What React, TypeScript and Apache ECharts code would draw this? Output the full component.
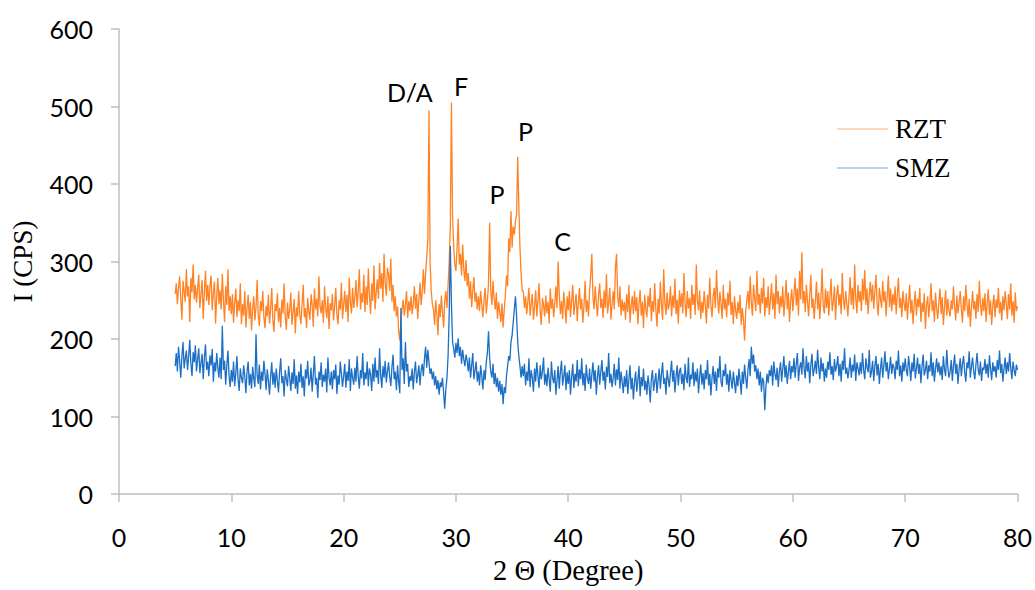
import React, { useEffect, useRef } from "react";
import * as echarts from "echarts";

const X_START = 5;
const X_STEP = 0.1;

const rztValues: number[] = [
  258, 272, 245, 266, 281, 252, 225, 275, 262, 248,
  290, 255, 268, 222, 279, 260, 296, 251, 270, 247,
  265, 283, 240, 258, 276, 226, 261, 288, 249, 270,
  244, 268, 282, 237, 259, 274, 220, 256, 279, 245,
  263, 238, 284, 250, 222, 268, 244, 290, 236, 255,
  232, 258, 221, 247, 265, 228, 250, 236, 272, 219,
  245, 230, 262, 215, 240, 257, 226, 248, 211, 239,
  255, 224, 241, 276, 230, 217, 249, 236, 262, 228,
  214, 243, 229, 257, 220, 238, 266, 225, 209, 245,
  236, 259, 222, 240, 215, 251, 233, 272, 228, 212,
  247, 226, 238, 260, 218, 235, 252, 207, 241, 229,
  262, 231, 219, 245, 270, 228, 240, 214, 253, 236,
  225, 258, 243, 216, 265, 238, 252, 229, 281, 242,
  233, 250, 221, 268, 240, 227, 255, 213, 246, 237,
  258, 224, 242, 266, 231, 219, 250, 238, 273, 226,
  244, 262, 235, 257, 222, 279, 248, 233, 266, 240,
  253, 276, 241, 262, 290, 238, 259, 247, 283, 235,
  268, 244, 291, 256, 232, 272, 249, 295, 238, 260,
  277, 252, 298, 265, 285, 248, 310, 271, 256, 292,
  283, 262, 304, 248, 270, 236, 255, 229, 242, 210,
  198, 222, 238, 251, 230, 244, 262, 227, 249, 236,
  255, 232, 246, 268, 239, 258, 226, 250, 273, 244,
  262, 290, 258, 285, 305, 330, 495, 300, 262, 245,
  238, 218, 250, 232, 205, 245, 228, 256, 235, 215,
  248, 262, 240, 270, 300, 345, 505, 360, 318, 296,
  288, 318, 355, 296, 310, 282, 322, 290, 275, 302,
  268, 285, 252, 274, 241, 263, 280, 248, 260, 238,
  255, 236, 262, 245, 228, 251, 266, 233, 249, 271,
  350, 262, 244, 275, 252, 238, 260, 226, 248, 235,
  222, 246, 215, 238, 255, 282, 268, 330, 312, 365,
  318, 345, 335, 352, 360, 435, 372, 318, 285, 262,
  262, 240, 255, 232, 248, 266, 230, 245, 258, 225,
  241, 263, 229, 250, 272, 236, 218, 253, 244, 229,
  256, 233, 248, 220, 265, 239, 252, 228, 246, 268,
  240, 300, 258, 232, 249, 226, 261, 243, 220, 255,
  237, 262, 228, 249, 270, 231, 245, 258, 223, 247,
  266, 238, 252, 221, 243, 275, 235, 250, 229, 262,
  283, 310, 255, 238, 268, 246, 229, 257, 272, 240,
  252, 227, 263, 240, 284, 233, 248, 266, 225, 245,
  262, 238, 292, 310, 255, 241, 268, 230, 251, 236,
  248, 225, 258, 235, 270, 221, 243, 255, 232, 262,
  236, 254, 219, 245, 263, 230, 248, 214, 257, 240,
  228, 256, 241, 266, 223, 249, 235, 272, 238, 216,
  252, 233, 274, 244, 225, 290, 247, 231, 260, 238,
  245, 268, 229, 256, 240, 278, 232, 251, 220, 263,
  241, 259, 233, 285, 246, 228, 262, 239, 253, 226,
  270, 244, 258, 231, 296, 250, 237, 263, 226, 248,
  234, 262, 245, 220, 257, 239, 279, 244, 228, 255,
  266, 240, 289, 252, 233, 261, 247, 226, 270, 238,
  252, 228, 260, 243, 275, 231, 248, 219, 255, 237,
  226, 248, 233, 257, 218, 240, 224, 198, 235, 250,
  262, 238, 281, 247, 230, 270, 252, 236, 288, 244,
  258, 233, 266, 246, 279, 229, 254, 240, 268, 231,
  250, 272, 238, 259, 226, 283, 245, 262, 233, 255,
  241, 268, 229, 252, 276, 238, 260, 222, 249, 264,
  236, 258, 279, 243, 265, 230, 288, 251, 312, 246,
  262, 235, 270, 248, 229, 257, 283, 240, 252, 226,
  249, 274, 238, 260, 226, 252, 291, 243, 233, 265,
  240, 262, 230, 255, 278, 236, 248, 268, 225, 257,
  270, 243, 258, 232, 285, 250, 238, 262, 246, 229,
  255, 280, 244, 266, 238, 296, 252, 233, 270, 248,
  262, 236, 278, 250, 289, 244, 265, 232, 257, 274,
  248, 270, 239, 261, 283, 245, 230, 266, 252, 240,
  275, 248, 262, 229, 256, 282, 241, 265, 236, 258,
  244, 268, 232, 257, 279, 240, 253, 228, 262, 246,
  236, 259, 225, 248, 270, 233, 251, 219, 244, 262,
  230, 252, 241, 266, 222, 247, 235, 259, 213, 243,
  255, 228, 247, 272, 236, 250, 222, 260, 239, 226,
  248, 265, 232, 254, 218, 241, 263, 230, 252, 236,
  229, 250, 238, 268, 242, 224, 256, 233, 247, 262,
  238, 221, 255, 236, 270, 245, 228, 252, 216, 241,
  262, 238, 249, 226, 258, 235, 275, 244, 230, 253,
  236, 259, 222, 247, 264, 231, 250, 218, 243, 257,
  228, 251, 240, 266, 233, 248, 224, 255, 237, 262,
  245, 226, 258, 238, 272, 230, 249, 221, 260, 236,
  242,
];

const smzValues: number[] = [
  165, 182, 158, 190, 172, 150, 178, 196, 162, 175,
  185, 160, 177, 199, 168, 152, 183, 170, 192, 158,
  174, 188, 156, 169, 181, 148, 176, 193, 160, 171,
  152, 179, 166, 187, 145, 170, 158, 182, 163, 150,
  176, 148, 217, 160, 172, 141, 166, 185, 152, 138,
  160, 145, 171, 139, 156, 178, 148, 133, 162, 150,
  143, 166, 152, 130, 158, 171, 140, 155, 136, 164,
  149, 138, 206, 153, 142, 167, 135, 158, 146, 172,
  155, 134, 161, 147, 128, 152, 170, 141, 157, 137,
  162, 146, 131, 158, 175, 143, 152, 126, 160, 148,
  139, 165, 150, 133, 157, 142, 174, 136, 153, 129,
  158, 144, 168, 137, 152, 126, 161, 149, 172, 140,
  146, 163, 132, 155, 178, 141, 150, 124, 158, 147,
  170, 138, 154, 145, 162, 131, 176, 150, 140, 158,
  135, 160, 148, 167, 129, 153, 141, 171, 156, 138,
  152, 168, 137, 158, 146, 174, 133, 162, 150, 141,
  163, 145, 178, 152, 136, 160, 149, 182, 140, 157,
  148, 171, 139, 162, 154, 133, 168, 145, 176, 150,
  160, 142, 188, 153, 137, 165, 150, 172, 144, 158,
  170, 152, 139, 163, 180, 148, 158, 134, 166, 145,
  130, 240, 160, 175, 142, 196, 158, 168, 138, 152,
  146, 162, 135, 158, 171, 143, 154, 166, 140, 160,
  168, 152, 175, 190, 163, 186, 170, 155, 162, 148,
  158, 140, 152, 135, 147, 128, 144, 138, 150, 132,
  110, 135, 150, 178, 232, 320, 245, 196, 188, 176,
  195, 182, 201, 178, 190, 168, 186, 174, 165, 180,
  172, 158, 176, 150, 166, 182, 148, 160, 171, 145,
  158, 140, 166, 152, 135, 160, 147, 170, 182, 210,
  176, 158, 150, 168, 142, 156, 138, 150, 132, 146,
  128, 142, 116, 138, 130, 152, 165, 178, 172, 196,
  205, 222, 238, 255, 230, 196, 178, 165, 150, 165,
  152, 168, 140, 158, 146, 175, 138, 160, 150, 132,
  162, 145, 170, 153, 137, 166, 148, 158, 176, 141,
  155, 139, 163, 148, 132, 171, 150, 143, 160, 128,
  147, 165, 136, 158, 172, 140, 152, 166, 134, 157,
  142, 160, 128, 151, 168, 137, 155, 145, 173, 139,
  161, 148, 175, 140, 156, 133, 167, 150, 142, 162,
  136, 154, 170, 145, 160, 128, 152, 166, 141, 158,
  173, 146, 158, 135, 164, 151, 182, 143, 155, 138,
  150, 168, 140, 161, 147, 176, 136, 158, 145, 130,
  152, 138, 160, 129, 148, 166, 135, 150, 122, 144,
  158, 132, 147, 165, 126, 151, 139, 162, 134, 146,
  128, 153, 140, 118, 149, 160, 133, 145, 156, 130,
  147, 162, 136, 155, 170, 142, 150, 128, 160, 148,
  138, 156, 172, 145, 160, 131, 152, 166, 140, 158,
  163, 142, 155, 134, 168, 150, 143, 176, 138, 154,
  148, 170, 139, 158, 145, 162, 130, 152, 167, 141,
  156, 135, 160, 148, 173, 140, 155, 127, 150, 165,
  142, 158, 133, 162, 150, 178, 145, 138, 160, 152,
  168, 141, 155, 132, 160, 147, 136, 158, 144, 130,
  153, 139, 162, 147, 128, 158, 142, 167, 150, 136,
  160, 174, 152, 190, 168, 180, 158, 166, 148, 162,
  140, 158, 132, 150, 145, 108, 138, 155, 143, 160,
  152, 166, 140, 171, 155, 147, 163, 138, 158, 170,
  145, 162, 178, 150, 166, 142, 158, 172, 148, 165,
  157, 175, 150, 168, 182, 146, 163, 170, 154, 188,
  162, 149, 178, 158, 170, 143, 166, 181, 152, 160,
  172, 155, 186, 163, 148, 176, 158, 169, 145, 162,
  150, 171, 160, 183, 154, 165, 147, 174, 158, 166,
  178, 152, 168, 145, 172, 160, 188, 155, 163, 149,
  161, 176, 150, 167, 158, 180, 146, 170, 162, 153,
  170, 155, 182, 160, 148, 175, 163, 157, 186, 150,
  158, 172, 146, 165, 178, 153, 168, 142, 162, 176,
  150, 166, 184, 158, 170, 148, 162, 177, 155, 168,
  163, 148, 172, 160, 185, 152, 166, 145, 170, 158,
  175, 160, 152, 178, 164, 146, 170, 158, 181, 149,
  162, 176, 155, 168, 143, 165, 180, 153, 160, 172,
  148, 166, 158, 183, 152, 170, 145, 162, 175, 157,
  170, 153, 165, 147, 178, 160, 152, 186, 163, 150,
  158, 173, 146, 166, 180, 155, 168, 142, 161, 175,
  152, 168, 178, 157, 145, 170, 162, 184, 150, 165,
  176, 158, 148, 167, 182, 160, 153, 171, 146, 163,
  160, 174, 155, 168, 150, 179, 162, 147, 170, 158,
  165, 150, 173, 160, 185, 156, 168, 145, 162, 176,
  155, 170, 158, 182, 163, 148, 171, 160, 152, 167,
  160,
];

const seriesNames = ["RZT", "SMZ"];
const seriesColors = ["#FF8224", "#1D6FC4"];
const peakLabels = [
  { text: "D/A", x: 25.9, y: 519 },
  { text: "F", x: 30.45, y: 526 },
  { text: "P", x: 33.65, y: 387 },
  { text: "P", x: 36.2, y: 469 },
  { text: "C", x: 39.5, y: 327 },
];

const toPairs = (vals: number[]) =>
  vals.map((v, i) => [Math.round((X_START + i * X_STEP) * 100) / 100, v]);

export default function App() {
  const ref = useRef<HTMLDivElement>(null);

  useEffect(() => {
    if (!ref.current) return;
    const chart = echarts.init(ref.current, null, { renderer: "svg" });
    const axisGray = "#BFBFBF";
    const sans = "Lato";
    const serif = "Liberation Serif";

    const option: any = {
      animation: false,
      backgroundColor: "#ffffff",
      grid: { left: 119, right: 15, top: 29, bottom: 95, containLabel: false },
      xAxis: {
        type: "value",
        min: 0,
        max: 80,
        interval: 10,
        name: "2 Θ (Degree)",
        nameLocation: "middle",
        nameGap: 62,
        nameTextStyle: { fontFamily: serif, fontSize: 28.5, color: "#000" },
        axisLine: { show: true, onZero: false, lineStyle: { color: axisGray, width: 1.5 } },
        axisTick: { show: true, inside: false, length: 8, lineStyle: { color: axisGray, width: 1.5 } },
        axisLabel: { fontFamily: sans, fontSize: 25, color: "#000", margin: 30 },
        splitLine: { show: false },
      },
      yAxis: {
        type: "value",
        min: 0,
        max: 600,
        interval: 100,
        name: "I (CPS)",
        nameLocation: "middle",
        nameGap: 83,
        nameTextStyle: { fontFamily: serif, fontSize: 27, color: "#000" },
        axisLine: { show: true, lineStyle: { color: axisGray, width: 1.5 } },
        axisTick: { show: true, inside: false, length: 8, lineStyle: { color: axisGray, width: 1.5 } },
        axisLabel: { fontFamily: sans, fontSize: 25, color: "#000", margin: 26 },
        splitLine: { show: false },
      },
      series: [
        {
          name: seriesNames[0],
          type: "line",
          data: toPairs(rztValues),
          showSymbol: false,
          symbol: "none",
          lineStyle: { color: seriesColors[0], width: 1.3 },
          itemStyle: { color: seriesColors[0] },
          z: 2,
        },
        {
          name: seriesNames[1],
          type: "line",
          data: toPairs(smzValues),
          showSymbol: false,
          symbol: "none",
          lineStyle: { color: seriesColors[1], width: 1.3 },
          itemStyle: { color: seriesColors[1] },
          z: 3,
        },
      ],
      graphic: [
        { type: "line", shape: { x1: 837, y1: 129, x2: 888, y2: 129 }, style: { stroke: seriesColors[0], lineWidth: 1, opacity: 0.6 } },
        { type: "text", x: 895, y: 129, style: { text: seriesNames[0], font: `27px "${serif}"`, fill: "#000", verticalAlign: "middle", textAlign: "left" } },
        { type: "line", shape: { x1: 837, y1: 168, x2: 888, y2: 168 }, style: { stroke: seriesColors[1], lineWidth: 1, opacity: 0.6 } },
        { type: "text", x: 895, y: 168, style: { text: seriesNames[1], font: `27px "${serif}"`, fill: "#000", verticalAlign: "middle", textAlign: "left" } },
      ],
    };
    chart.setOption(option);

    const labelGraphics = peakLabels.map((p) => {
      const [px, py] = chart.convertToPixel({ gridIndex: 0 }, [p.x, p.y]) as number[];
      return {
        type: "text",
        x: px,
        y: py,
        style: { text: p.text, font: `25px "${sans}"`, fill: "#000", textAlign: "center", verticalAlign: "middle" },
      };
    });
    chart.setOption({ graphic: [...option.graphic, ...labelGraphics] });

    return () => chart.dispose();
  }, []);

  return (
    <div
      ref={ref}
      style={{ position: "fixed", left: 0, top: 0, width: 1035, height: 590, background: "#fff" }}
    />
  );
}
